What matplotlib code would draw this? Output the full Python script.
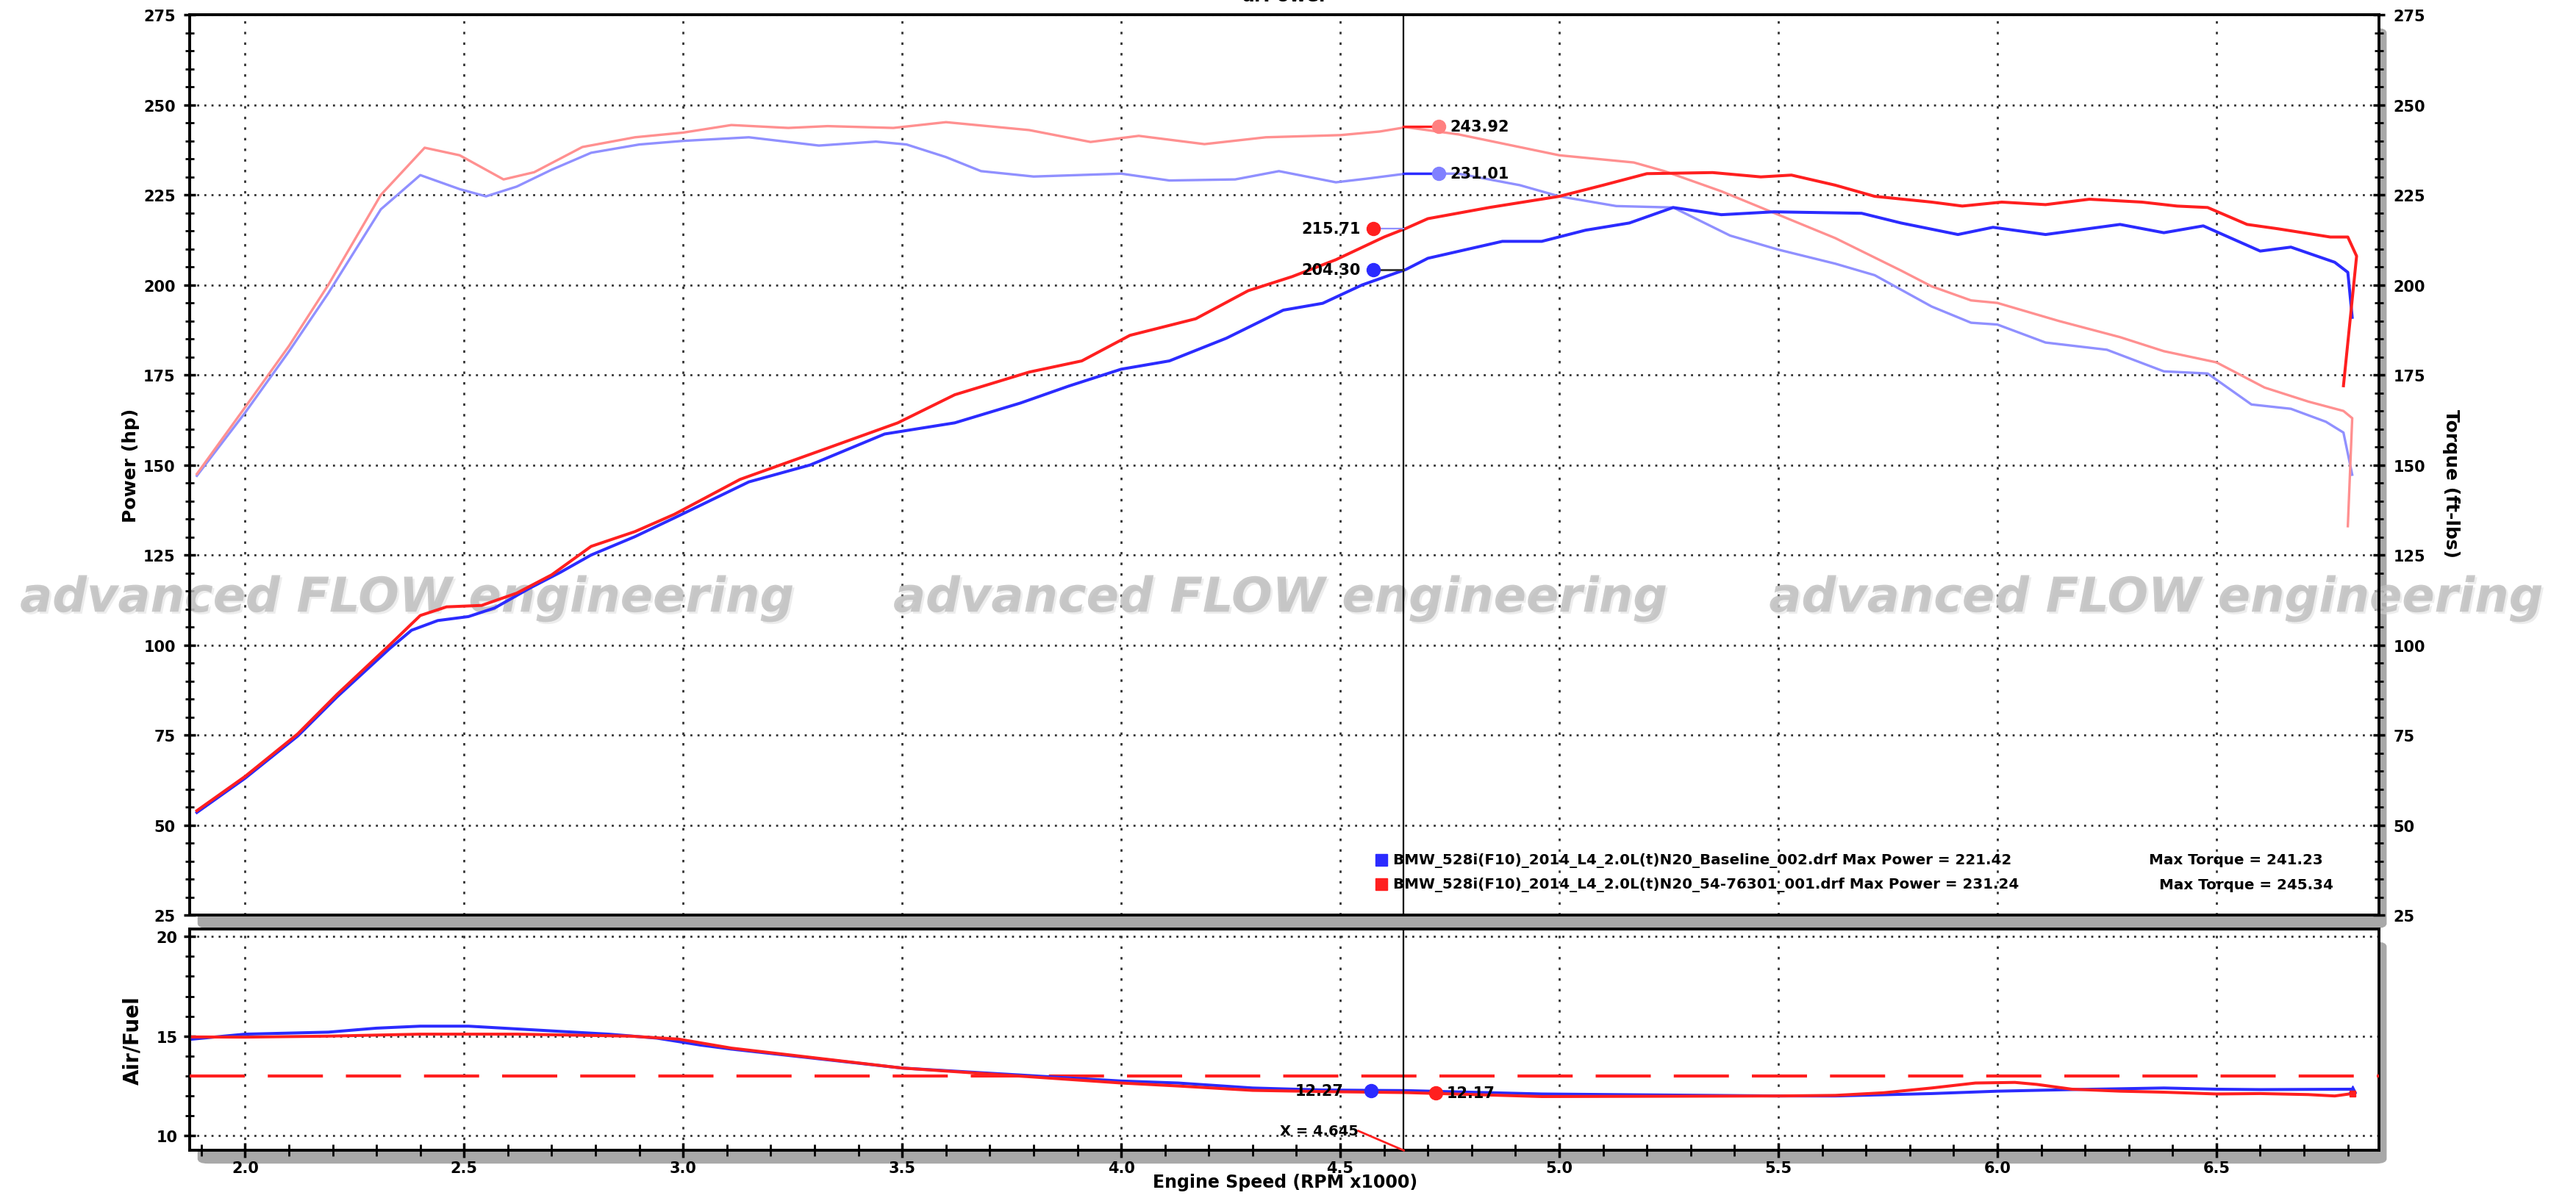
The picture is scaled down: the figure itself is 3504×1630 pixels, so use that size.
import matplotlib
matplotlib.use('Agg')
import matplotlib.pyplot as plt
import matplotlib.patheffects as pe
from matplotlib.patches import FancyBboxPatch
from matplotlib.ticker import MultipleLocator, FormatStrFormatter

# ---- data (rpm x1000) ----
tq_base_rpm = [1.89, 2.0, 2.10, 2.19, 2.31, 2.40, 2.49, 2.55, 2.62, 2.70, 2.79, 2.90, 3.0, 3.15,
               3.31, 3.44, 3.51, 3.60, 3.68, 3.80, 4.0, 4.11, 4.26, 4.36, 4.49, 4.56, 4.65, 4.77,
               4.91, 5.0, 5.13, 5.26, 5.39, 5.5, 5.63, 5.72, 5.85, 5.94, 6.0, 6.11, 6.25, 6.38,
               6.48, 6.58, 6.67, 6.75, 6.79, 6.81]
tq_base = [147, 164.5, 181.5, 197.7, 221, 230.5, 226.6, 224.6, 227.3, 232, 236.7, 239, 240, 241,
           238.7, 239.8, 239, 235.5, 231.6, 230.1, 230.9, 229, 229.3, 231.6, 228.5, 229.5, 230.9, 230.9,
           227.7, 224.6, 221.9, 221.5, 213.7, 209.8, 205.9, 202.7, 194, 189.5, 189, 184, 182, 176,
           175.4, 166.8, 165.6, 162, 159, 147.3]

tq_mod_rpm = [1.89, 2.0, 2.10, 2.19, 2.31, 2.41, 2.49, 2.59, 2.66, 2.77, 2.89, 3.0, 3.11, 3.24,
              3.33, 3.48, 3.60, 3.79, 3.93, 4.04, 4.19, 4.33, 4.5, 4.59, 4.65, 4.77, 5.0, 5.17,
              5.24, 5.37, 5.5, 5.63, 5.78, 5.85, 5.94, 6.0, 6.14, 6.28, 6.38, 6.5, 6.61, 6.71,
              6.79, 6.81, 6.80]
tq_mod = [147.5, 166, 183, 200, 225, 238.1, 236, 229.3, 231.3, 238.3, 241, 242.3, 244.4, 243.6,
          244.1, 243.6, 245.2, 243, 239.7, 241.4, 239.1, 241, 241.6, 242.6, 243.8, 241.8, 236, 234,
          231.6, 226, 219.5, 213, 204, 199.6, 195.7, 195, 190, 185.5, 181.6, 178.5, 171.5, 167.6,
          165, 163, 133]

hp_base_rpm = [1.89, 2.0, 2.12, 2.21, 2.33, 2.38, 2.44, 2.51, 2.57, 2.65, 2.72, 2.79, 2.89, 2.98,
               3.15, 3.29, 3.46, 3.62, 3.77, 3.88, 4.0, 4.11, 4.24, 4.37, 4.46, 4.55, 4.65, 4.70,
               4.87, 4.96, 5.06, 5.16, 5.26, 5.37, 5.49, 5.69, 5.78, 5.91, 5.99, 6.11, 6.28, 6.38,
               6.47, 6.60, 6.67, 6.77, 6.80, 6.81]
hp_base = [53.5, 63, 74.7, 85.6, 99, 104.1, 106.8, 107.9, 110.3, 115.8, 120.2, 125, 130.1, 135.3,
           145.3, 150, 158.6, 161.7, 167.2, 171.9, 176.6, 178.9, 185.2, 193, 194.9, 200, 204.3, 207.4,
           212.1, 212.1, 215.2, 217.2, 221.5, 219.5, 220.3, 219.9, 217.2, 214, 216, 214, 216.8, 214.5,
           216.4, 209.4, 210.5, 206.3, 203.5, 191]

hp_mod_rpm = [1.89, 2.0, 2.12, 2.21, 2.33, 2.40, 2.46, 2.54, 2.62, 2.70, 2.79, 2.89, 2.98, 3.13,
              3.33, 3.49, 3.62, 3.79, 3.91, 4.02, 4.17, 4.29, 4.39, 4.49, 4.60, 4.65, 4.70, 4.84,
              5.0, 5.1, 5.2, 5.35, 5.46, 5.53, 5.63, 5.72, 5.85, 5.92, 6.01, 6.11, 6.21, 6.33,
              6.41, 6.48, 6.57, 6.64, 6.76, 6.80, 6.82, 6.79]
hp_mod = [54, 63.5, 75.3, 86.3, 100, 108.2, 110.6, 111, 114.4, 119.5, 127.4, 131.5, 136.3, 146,
          154.7, 161.7, 169.5, 175.8, 178.9, 186, 190.6, 198.4, 202.3, 207, 213.3, 215.7, 218.4, 221.5,
          224.6, 227.7, 230.9, 231.2, 230, 230.5, 227.7, 224.6, 223, 221.9, 223, 222.3, 223.8, 223,
          221.9, 221.5, 216.8, 215.6, 213.3, 213.3, 208, 172]

afr_base_rpm = [1.88, 2.0, 2.19, 2.30, 2.40, 2.51, 2.67, 2.83, 2.94, 3.04, 3.11, 3.5, 4.0, 4.13,
                4.30, 4.46, 4.57, 4.65, 4.96, 5.5, 5.63, 5.85, 6.0, 6.17, 6.38, 6.5, 6.6, 6.81]
afr_base = [14.85, 15.1, 15.2, 15.4, 15.5, 15.5, 15.3, 15.1, 14.9, 14.55, 14.35, 13.4, 12.75, 12.65,
            12.4, 12.3, 12.28, 12.27, 12.1, 12.0, 12.0, 12.12, 12.24, 12.32, 12.4, 12.34, 12.32, 12.34]

afr_mod_rpm = [1.88, 2.0, 2.19, 2.40, 2.62, 2.88, 2.99, 3.11, 3.5, 4.0, 4.13, 4.30, 4.46, 4.65,
               4.96, 5.5, 5.63, 5.74, 5.85, 5.95, 6.04, 6.09, 6.17, 6.28, 6.38, 6.5, 6.6, 6.71,
               6.77, 6.81]
afr_mod = [14.96, 14.95, 15.0, 15.1, 15.1, 15.0, 14.85, 14.4, 13.4, 12.65, 12.5, 12.28, 12.22, 12.17,
           11.97, 12.0, 12.03, 12.16, 12.4, 12.65, 12.68, 12.58, 12.34, 12.24, 12.19, 12.1, 12.12, 12.07,
           12.0, 12.12]

afr_target = 13.0
cursor_x = 4.645
cursor_vals = {'hp_mod': 215.71, 'hp_base': 204.30, 'tq_mod': 243.92, 'tq_base': 231.01,
               'afr_base': 12.27, 'afr_mod': 12.17}

legend_names = ['BMW_528i(F10)_2014_L4_2.0L(t)N20_Baseline_002.drf',
                'BMW_528i(F10)_2014_L4_2.0L(t)N20_54-76301_001.drf']
max_power = [221.42, 231.24]
max_torque = [241.23, 245.34]

RED = '#ff1f1f'
BLUE = '#2b2bff'
LRED = '#ff9090'
LBLUE = '#9090ff'

plt.rcParams['font.family'] = 'DejaVu Sans'
plt.rcParams['font.weight'] = 'bold'

fig = plt.figure(figsize=(35.04, 16.31), dpi=100)

main_pos = [0.0737, 0.236, 0.8498, 0.751]
afr_pos = [0.0737, 0.0397, 0.8498, 0.185]

# grey 3d-ish shadows behind the panels
for p in (main_pos, afr_pos):
    sh = FancyBboxPatch((p[0] + 0.003, p[1] - 0.011), p[2], p[3],
                        boxstyle='round,pad=0,rounding_size=0.004',
                        transform=fig.transFigure, facecolor='#a8a8a8',
                        edgecolor='none', zorder=-1)
    fig.add_artist(sh)

ax = fig.add_axes(main_pos)
ax2 = fig.add_axes(afr_pos)

grid_h = dict(color='#333333', linestyle=(0, (1, 2.5)), linewidth=2)
grid_v = dict(color='#333333', linestyle=(0, (1.2, 4)), linewidth=2)

for a in (ax, ax2):
    a.set_xlim(1.874, 6.871)
    a.xaxis.set_major_locator(MultipleLocator(0.5))
    a.xaxis.set_minor_locator(MultipleLocator(0.1))
    for s in a.spines.values():
        s.set_linewidth(2.8)
    a.grid(True, axis='y', which='major', **grid_h)
    a.grid(True, axis='x', which='major', **grid_v)
    a.set_axisbelow(True)

# ---- main panel ----
ax.set_ylim(25, 275)
ax.yaxis.set_major_locator(MultipleLocator(25))
ax.yaxis.set_minor_locator(MultipleLocator(5))
ax.tick_params(axis='y', which='both', left=True, right=True, labelleft=True, labelright=True,
               direction='inout', labelsize=15, pad=8)
ax.tick_params(axis='y', which='major', length=12, width=2.5)
ax.tick_params(axis='y', which='minor', length=9, width=2)
ax.tick_params(axis='x', which='both', length=0, labelbottom=False)

ax.plot(tq_base_rpm, tq_base, color=LBLUE, lw=2.4, zorder=3)
ax.plot(tq_mod_rpm, tq_mod, color=LRED, lw=2.4, zorder=3)
ax.plot(hp_base_rpm, hp_base, color=BLUE, lw=2.9, zorder=4)
ax.plot(hp_mod_rpm, hp_mod, color=RED, lw=2.9, zorder=4)

ax.axvline(cursor_x, color='black', lw=1.6, zorder=5)

# cursor read-outs
left_dot_x, right_dot_x = 4.576, 4.725
ax.plot([left_dot_x, cursor_x], [cursor_vals['hp_mod']] * 2, color=LBLUE, lw=1.6, zorder=5)
ax.plot([left_dot_x, cursor_x], [cursor_vals['hp_base']] * 2, color='#333333', lw=2, zorder=5)
ax.plot([cursor_x, right_dot_x], [cursor_vals['tq_mod']] * 2, color=RED, lw=2.4, zorder=5)
ax.plot([cursor_x, right_dot_x], [cursor_vals['tq_base']] * 2, color=BLUE, lw=2.4, zorder=5)
ax.plot(left_dot_x, cursor_vals['hp_mod'], 'o', color=RED, ms=13, zorder=6)
ax.plot(left_dot_x, cursor_vals['hp_base'], 'o', color=BLUE, ms=13, zorder=6)
ax.plot(right_dot_x, cursor_vals['tq_mod'], 'o', color='#ff8080', ms=13, zorder=6)
ax.plot(right_dot_x, cursor_vals['tq_base'], 'o', color='#8080ff', ms=13, zorder=6)
ax.text(4.547, cursor_vals['hp_mod'], f"{cursor_vals['hp_mod']:.2f}", ha='right', va='center',
        fontsize=15, zorder=7)
ax.text(4.547, cursor_vals['hp_base'], f"{cursor_vals['hp_base']:.2f}", ha='right', va='center',
        fontsize=15, zorder=7)
ax.text(4.751, cursor_vals['tq_mod'], f"{cursor_vals['tq_mod']:.2f}", ha='left', va='center',
        fontsize=15, zorder=7)
ax.text(4.751, cursor_vals['tq_base'], f"{cursor_vals['tq_base']:.2f}", ha='left', va='center',
        fontsize=15, zorder=7)

ax.text(-0.027, 0.5, 'Power (hp)', transform=ax.transAxes, rotation=90, ha='center', va='center',
        fontsize=18)
ax.text(1.033, 0.48, 'Torque (ft-lbs)', transform=ax.transAxes, rotation=-90, ha='center',
        va='center', fontsize=18)

# legend lines
for i, (name, col) in enumerate(zip(legend_names, [BLUE, RED])):
    y = 0.0616 - i * 0.0273
    ax.plot(0.5444, y, marker='s', color=col, ms=11, mec=col, transform=ax.transAxes,
            clip_on=False, zorder=7)
    ax.text(0.5497, y, f'{name} Max Power = {max_power[i]:.2f}', transform=ax.transAxes,
            ha='left', va='center', fontsize=14.3, zorder=7)
    ax.text(0.895 + i * 0.0045, y, f'Max Torque = {max_torque[i]:.2f}', transform=ax.transAxes,
            ha='left', va='center', fontsize=14.3, zorder=7)

# watermark
for xc in (0.158, 0.497, 0.837):
    ax.text(xc, 0.5, 'advanced FLOW engineering', transform=fig.transFigure, ha='center',
            va='center', fontsize=47, style='italic', color='#bdbdbd', alpha=0.55,
            clip_on=False, zorder=1,
            path_effects=[pe.withSimplePatchShadow(offset=(2, -2), shadow_rgbFace='#dcdcdc',
                                                   alpha=0.5), pe.Normal()])

# ---- air / fuel panel ----
ax2.set_ylim(9.27, 20.39)
ax2.yaxis.set_major_locator(MultipleLocator(5))
ax2.yaxis.set_minor_locator(MultipleLocator(1))
ax2.xaxis.set_major_formatter(FormatStrFormatter('%.1f'))
ax2.tick_params(axis='y', which='both', left=True, right=False, direction='inout', labelsize=15, pad=6)
ax2.tick_params(axis='y', which='major', length=12, width=2.5)
ax2.tick_params(axis='y', which='minor', length=9, width=2)
ax2.tick_params(axis='x', which='both', direction='inout', labelsize=15, pad=3)
ax2.tick_params(axis='x', which='major', length=14, width=2.5)
ax2.tick_params(axis='x', which='minor', length=12, width=2)

ax2.axhline(afr_target, color=RED, lw=3, linestyle=(0, (18, 7.5)), zorder=3)
ax2.plot(afr_base_rpm, afr_base, color=BLUE, lw=2.9, zorder=4)
ax2.plot(afr_mod_rpm, afr_mod, color=RED, lw=2.9, zorder=4)
ax2.plot(afr_base_rpm[-1], afr_base[-1], marker='^', color=BLUE, ms=7, zorder=5)
ax2.plot(afr_mod_rpm[-1], afr_mod[-1], marker='s', color=RED, ms=6, zorder=5)
ax2.axvline(cursor_x, color='black', lw=1.6, zorder=5)

ax2.plot(4.571, cursor_vals['afr_base'], 'o', color=BLUE, ms=13, zorder=6)
ax2.plot(4.718, cursor_vals['afr_mod'], 'o', color=RED, ms=13, zorder=6)
ax2.text(4.507, cursor_vals['afr_base'], f"{cursor_vals['afr_base']:.2f}", ha='right', va='center',
         fontsize=15, zorder=7)
ax2.text(4.743, cursor_vals['afr_mod'], f"{cursor_vals['afr_mod']:.2f}", ha='left', va='center',
         fontsize=15, zorder=7)
ax2.text(4.541, 10.25, f'X = {cursor_x:.3f}', ha='right', va='center', fontsize=14, zorder=7)
ax2.plot([4.541, cursor_x], [10.25, 9.27], color=RED, lw=2, zorder=6, clip_on=False)

ax2.text(-0.026, 0.5, 'Air/Fuel', transform=ax2.transAxes, rotation=90, ha='center', va='center',
         fontsize=20)
fig.text(0.499, 0.0137, 'Engine Speed (RPM x1000)', ha='center', va='center', fontsize=17)

# title sits mostly above the top edge, as on the original sheet
fig.text(0.499, 1.003, 'drPower', ha='center', va='center', fontsize=18)

fig.savefig('out.png', dpi=100)
